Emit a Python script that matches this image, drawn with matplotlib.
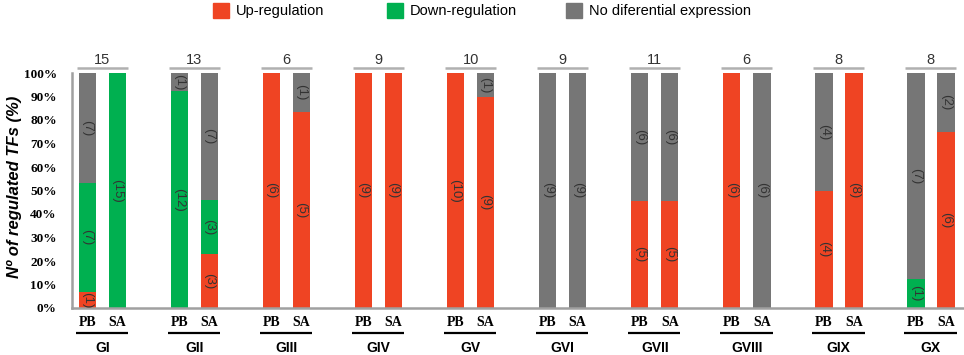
import matplotlib
matplotlib.use("Agg")
import matplotlib.pyplot as plt
from matplotlib.patches import Rectangle

groups = ["GI", "GII", "GIII", "GIV", "GV", "GVI", "GVII", "GVIII", "GIX", "GX"]
totals = [15, 13, 6, 9, 10, 9, 11, 6, 8, 8]
conditions = ["PB", "SA"]

# counts per group (PB / SA)
pb_up = [1, 0, 6, 9, 10, 0, 5, 6, 4, 0]
pb_down = [7, 12, 0, 0, 0, 0, 0, 0, 0, 1]
pb_none = [7, 1, 0, 0, 0, 9, 6, 0, 4, 7]
sa_up = [0, 3, 5, 9, 9, 0, 5, 0, 8, 6]
sa_down = [15, 3, 0, 0, 0, 0, 0, 0, 0, 0]
sa_none = [0, 7, 1, 0, 1, 9, 6, 6, 0, 2]

legend_labels = ["Up-regulation", "Down-regulation", "No diferential expression"]
colors = ["#EF4423", "#00B050", "#767676"]

sans = "Liberation Sans"
serif = "Liberation Serif"

fig = plt.figure(figsize=(9.64, 3.55), dpi=100)
ax = fig.add_axes([72 / 964, 47 / 355, 892 / 964, 235 / 355])

offset = 0.163
width = 0.19

def draw_bar(x, up, down, none):
    total = up + down + none
    bottom = 0
    for n, c in zip([up, down, none], colors):
        if n == 0:
            continue
        h = n / total * 100
        ax.bar(x, h, width, bottom=bottom, color=c, linewidth=0)
        ax.text(x, bottom + h / 2, "(%d)" % n, rotation=-90, ha="center", va="center",
                fontsize=9.5, color="#333333", family=sans)
        bottom += h

for i in range(len(groups)):
    draw_bar(i - offset, pb_up[i], pb_down[i], pb_none[i])
    draw_bar(i + offset, sa_up[i], sa_down[i], sa_none[i])
    # totals above
    ax.text(i, 105.5, str(totals[i]), ha="center", va="center", fontsize=10.5,
            color="#333333", family=sans, clip_on=False)
    ax.plot([i - 0.277, i + 0.277], [102.2, 102.2], color="#b0b0b0", lw=1.8,
            clip_on=False, solid_capstyle="butt")
    # conditions and group names below
    for k, cond in enumerate(conditions):
        ax.text(i + (k * 2 - 1) * offset, -6, cond, ha="center", va="center",
                fontsize=10, fontweight="bold", family=serif, clip_on=False)
    ax.plot([i - 0.29, i + 0.28], [-10.6, -10.6], color="black", lw=1.6,
            clip_on=False, solid_capstyle="butt")
    ax.text(i, -17, groups[i], ha="center", va="center", fontsize=10,
            fontweight="bold", family=sans, clip_on=False)

ax.set_xlim(-0.33, 9.36)
ax.set_ylim(0, 100)
ax.set_yticks(range(0, 101, 10))
ax.set_yticklabels(["%d%%" % v for v in range(0, 101, 10)], family=serif,
                   fontweight="bold", fontsize=9.5)
ax.set_xticks([])
ax.tick_params(axis="y", length=0, pad=11)
for s in ["top", "right"]:
    ax.spines[s].set_visible(False)
for s in ["left", "bottom"]:
    ax.spines[s].set_color("#a0a0a0")
    ax.spines[s].set_linewidth(1.8)

fig.text(15 / 964, 1 - 187 / 355, "Nº of regulated TFs (%)", rotation=90,
         ha="center", va="center", fontsize=12, fontweight="bold",
         fontstyle="italic", family=sans)

# legend drawn by hand
leg_x = [213, 387, 566]
for x0, lab, c in zip(leg_x, legend_labels, colors):
    fig.add_artist(Rectangle((x0 / 964, 1 - 18 / 355), 16 / 964, 15 / 355,
                             transform=fig.transFigure, color=c))
    fig.text((x0 + 23) / 964, 1 - 11 / 355, lab, ha="left", va="center",
             fontsize=10.5, family=sans)

fig.savefig("out.png", dpi=100)
